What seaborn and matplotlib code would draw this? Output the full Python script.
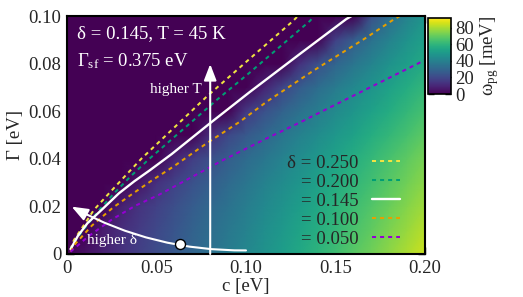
import numpy as np
import matplotlib
matplotlib.use("Agg")
import matplotlib.pyplot as plt
import seaborn as sns

# omega_pg map [meV], rows = Gamma, columns = c
c_grid = [0.0, 0.01, 0.02, 0.03, 0.04, 0.05, 0.06, 0.07, 0.08, 0.09, 0.10,
          0.11, 0.12, 0.13, 0.14, 0.15, 0.16, 0.17, 0.18, 0.19, 0.20]
gamma_grid = [0.0, 0.01, 0.02, 0.03, 0.04, 0.05, 0.06, 0.07, 0.08, 0.09, 0.10]
omega_pg = [
    [0, 4.2, 8.5, 12.8, 17.0, 21.2, 25.5, 29.8, 34.0, 38.2, 42.5,
     46.8, 51.0, 55.2, 59.5, 63.8, 68.0, 72.2, 76.5, 80.8, 85.0],
    [0, 0, 7.1, 11.6, 15.9, 20.1, 24.3, 28.4, 32.6, 36.7, 40.8,
     45.0, 49.1, 53.2, 57.3, 61.4, 65.6, 69.7, 73.8, 77.9, 82.0],
    [0, 0, 0, 8.1, 13.3, 17.8, 22.2, 26.4, 30.6, 34.7, 38.8,
     42.8, 46.9, 50.9, 54.9, 59.0, 63.0, 67.0, 71.0, 75.0, 79.0],
    [0, 0, 0, 0, 4.8, 12.6, 18.0, 22.8, 27.2, 31.6, 35.8,
     40.0, 44.0, 48.1, 52.1, 56.2, 60.1, 64.1, 68.1, 72.0, 76.0],
    [0] * 6 + [9.1, 16.4, 22.1, 27.0, 31.7, 36.2, 40.5, 44.7, 48.9, 53.0,
               57.0, 61.1, 65.1, 69.0, 73.0],
    [0] * 8 + [12.1, 19.5, 25.3, 30.5, 35.3, 39.9, 44.3, 48.6, 52.8, 56.9,
               61.0, 65.0, 69.0],
    [0] * 10 + [15.1, 22.6, 28.6, 33.9, 38.8, 43.5, 48.0, 52.4, 56.7, 60.9, 65.0],
    [0] * 11 + [8.4, 19.3, 26.4, 32.4, 37.8, 42.9, 47.6, 52.2, 56.7, 61.0],
    [0] * 13 + [12.8, 22.6, 29.7, 35.8, 41.3, 46.5, 51.3, 56.0],
    [0] * 15 + [17.3, 26.9, 34.3, 40.7, 46.6, 52.0],
    [0] * 17 + [22.1, 32.6, 40.8, 48.0],
]

# pseudogap boundary for several dopings
c_d250 = [0.002, 0.0039, 0.0095, 0.015, 0.0235, 0.0325, 0.0415, 0.060, 0.078, 0.104, 0.1264, 0.129]
g_d250 = [0.002, 0.0059, 0.0122, 0.0185, 0.0255, 0.0328, 0.040, 0.0532, 0.0661, 0.0833, 0.098, 0.1]
c_d200 = [0.002, 0.0049, 0.0113, 0.018, 0.0263, 0.0355, 0.046, 0.0836, 0.1022, 0.1358, 0.138]
g_d200 = [0.002, 0.0059, 0.0122, 0.0185, 0.0255, 0.0326, 0.040, 0.0647, 0.0763, 0.098, 0.1]
c_d145 = [0.002, 0.006, 0.0115, 0.0197, 0.029, 0.0375, 0.0465, 0.0585, 0.080,
          0.102, 0.130, 0.156, 0.159]
g_d145 = [0.002, 0.0075, 0.013, 0.0188, 0.0255, 0.0305, 0.0353, 0.042, 0.055,
          0.068, 0.084, 0.0987, 0.1]
c_d100 = [0.002, 0.0049, 0.014, 0.0257, 0.037, 0.048, 0.0594, 0.078, 0.0966, 0.1116,
          0.1376, 0.1674, 0.1814, 0.186]
g_d100 = [0.001, 0.0045, 0.012, 0.0195, 0.0255, 0.0312, 0.0367, 0.0465, 0.0556, 0.064,
          0.077, 0.091, 0.098, 0.1]
c_d050 = [0.002, 0.0121, 0.0251, 0.0382, 0.0512, 0.0873, 0.1116, 0.1302, 0.1618, 0.2]
g_d050 = [0.001, 0.0075, 0.0145, 0.0203, 0.0248, 0.0395, 0.0486, 0.0553, 0.0672, 0.0815]

delta_labels = ["δ = 0.250", "= 0.200", "= 0.145", "= 0.100", "= 0.050"]
line_colors = ["#f0e442", "#009e73", "white", "#e69f00", "#9400d3"]

# current point (delta = 0.145)
point_c = [0.063]
point_gamma = [0.0042]

sns.set_theme(style="ticks")
plt.rcParams["font.family"] = ["Liberation Serif", "DejaVu Serif"]
plt.rcParams["mathtext.fontset"] = "custom"
plt.rcParams["mathtext.rm"] = "Liberation Serif"
plt.rcParams["mathtext.it"] = "Liberation Serif:italic"
plt.rcParams["font.size"] = 13.5

fig = plt.figure(figsize=(5.23, 2.97), dpi=100)
ax = fig.add_axes([0.1281, 0.1448, 0.6845, 0.8013])
cax = fig.add_axes([0.8184, 0.6835, 0.044, 0.256])

mesh = ax.pcolormesh(c_grid, gamma_grid, np.array(omega_pg), shading="gouraud",
                     cmap="viridis", vmin=0, vmax=92)

curves = [(c_d250, g_d250), (c_d200, g_d200), (c_d145, g_d145),
          (c_d100, g_d100), (c_d050, g_d050)]
for (cs, gs), lab, col in zip(curves, delta_labels, line_colors):
    if col == "white":
        sns.lineplot(x=cs, y=gs, ax=ax, color=col, lw=1.7, label=lab,
                     sort=False, estimator=None)
    else:
        sns.lineplot(x=cs, y=gs, ax=ax, color=col, lw=1.45, linestyle=(0, (2, 2)),
                     label=lab, sort=False, estimator=None)

# arrows and annotations
head = "-|>,head_length=0.7,head_width=0.27"
ax.annotate("", xy=(0.08, 0.0798), xytext=(0.08, 0.0),
            arrowprops=dict(arrowstyle=head, color="white", lw=1.5,
                            mutation_scale=14, shrinkA=0, shrinkB=0))
ax.annotate("", xy=(0.0026, 0.0199), xytext=(0.1, 0.0015),
            arrowprops=dict(arrowstyle=head, color="white", lw=1.5,
                            mutation_scale=14, shrinkA=0, shrinkB=0,
                            connectionstyle="arc3,rad=-0.13"))
sns.scatterplot(x=point_c, y=point_gamma, ax=ax, s=52, color="white",
                edgecolor="black", linewidth=1, zorder=5)

ax.text(0.0755, 0.069, "higher T", color="white", fontsize=11, ha="right", va="center")
ax.text(0.0253, 0.0055, "higher δ", color="white", fontsize=11, ha="center", va="center")
ax.text(0.0056, 0.0925, "δ = 0.145, T = 45 K", color="white", ha="left", va="center")
ax.text(0.0056, 0.081, "Γ$_{\\rm sf}$ = 0.375 eV", color="white", ha="left", va="center")

ax.set_xlim(0, 0.2)
ax.set_ylim(0, 0.1)
ax.set_xticks([0, 0.05, 0.10, 0.15, 0.20])
ax.set_xticklabels(["0", "0.05", "0.10", "0.15", "0.20"])
ax.set_yticks([0, 0.02, 0.04, 0.06, 0.08, 0.10])
ax.set_yticklabels(["0", "0.02", "0.04", "0.06", "0.08", "0.10"])
ax.set_xlabel("c [eV]", fontsize=13.5, labelpad=1)
ax.set_ylabel("Γ [eV]", fontsize=13.5, labelpad=3)
ax.tick_params(direction="in", top=True, right=True, length=5, width=1,
               color="black", pad=4, labelsize=13.5)
for sp in ax.spines.values():
    sp.set_linewidth(1.5)
    sp.set_color("black")

leg = ax.legend(loc="lower right", bbox_to_anchor=(0.93, 0.025), frameon=False,
                markerfirst=False, handlelength=1.5, handletextpad=0.7,
                labelspacing=0.1, borderpad=0, borderaxespad=0, fontsize=13.5)

cb = fig.colorbar(mesh, cax=cax, ticks=[0, 20, 40, 60, 80])
cb.ax.tick_params(direction="in", left=True, right=True, length=4, width=1,
                  color="black", labelsize=13.5, pad=3)
cb.outline.set_linewidth(1.2)
cb.outline.set_edgecolor("black")
cb.set_label("ω$_{\\rm pg}$ [meV]", fontsize=13.5, labelpad=3)

fig.savefig("out.png", dpi=100)
